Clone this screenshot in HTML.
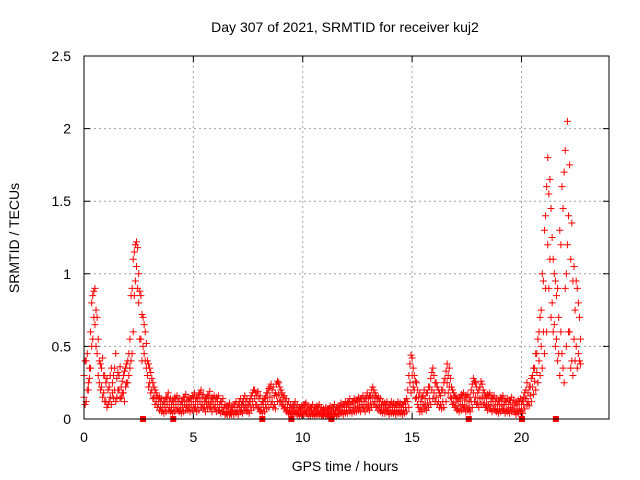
<!DOCTYPE html>
<html><head><meta charset="utf-8"><style>
body{margin:0;background:#fff}
svg{display:block;font-family:"Liberation Sans",sans-serif}
</style></head><body>
<svg id="chart" width="640" height="480" viewBox="0 0 640 480">
<text x="345" y="32" font-size="14" text-anchor="middle">Day 307 of 2021, SRMTID for receiver kuj2</text>
<text x="345" y="471" font-size="14" text-anchor="middle">GPS time / hours</text>
<text x="19" y="238" font-size="14" text-anchor="middle" transform="rotate(-90 19 238)">SRMTID / TECUs</text>
<g id="grid"></g><g id="ticks"></g><g id="marks"></g>
<rect x="84" y="56" width="525" height="363" fill="none" stroke="#000" stroke-width="1"/>
</svg>
<script>
const xTicks=[0,5,10,15,20];
const yTicks=[0,0.5,1,1.5,2,2.5];
const yTickLabels=["0","0.5","1","1.5","2","2.5"];
const dt=0.1;
const seriesA=[0.30,0.40,0.25,0.60,0.85,0.90,0.70,0.40,0.35,0.30,
0.25,0.20,0.30,0.25,0.35,0.28,0.30,0.22,0.30,0.35,
0.40,0.55,0.90,1.15,1.22,1.00,0.85,0.70,0.60,0.40,
0.35,0.28,0.22,0.18,0.14,0.12,0.10,0.12,0.15,0.12,
0.10,0.12,0.14,0.12,0.10,0.12,0.15,0.13,0.12,0.14,
0.15,0.12,0.14,0.18,0.15,0.12,0.14,0.16,0.12,0.14,
0.12,0.14,0.10,0.12,0.08,0.07,0.09,0.06,0.08,0.10,
0.08,0.12,0.10,0.14,0.12,0.10,0.14,0.18,0.20,0.16,
0.14,0.10,0.12,0.15,0.18,0.22,0.20,0.16,0.24,0.25,
0.20,0.15,0.12,0.10,0.08,0.07,0.10,0.08,0.06,0.07,
0.08,0.10,0.07,0.06,0.08,0.06,0.07,0.08,0.06,0.05,
0.06,0.05,0.07,0.06,0.08,0.06,0.07,0.09,0.08,0.10,
0.09,0.12,0.10,0.12,0.11,0.13,0.12,0.14,0.12,0.15,
0.14,0.16,0.22,0.18,0.14,0.12,0.10,0.09,0.10,0.08,
0.10,0.09,0.08,0.10,0.09,0.08,0.10,0.12,0.20,0.38,
0.42,0.30,0.25,0.15,0.12,0.16,0.14,0.18,0.22,0.32,
0.30,0.25,0.20,0.16,0.20,0.28,0.38,0.35,0.22,0.18,
0.15,0.12,0.14,0.16,0.13,0.15,0.12,0.20,0.28,0.25,
0.18,0.22,0.24,0.18,0.14,0.16,0.12,0.14,0.12,0.10,
0.12,0.14,0.10,0.12,0.10,0.13,0.11,0.09,0.10,0.12,
0.10,0.15,0.20,0.18,0.22,0.30,0.35,0.45,0.60,0.75,
0.95,1.40,1.80,1.65,1.25,1.00,0.85,0.70,1.20,1.45,
1.85,2.05,1.75,1.35,1.05,0.95,0.80,0.55];
const seriesB=[0.15,0.12,0.20,0.35,0.55,0.65,0.45,0.25,0.22,0.18,
0.12,0.10,0.15,0.18,0.20,0.15,0.20,0.15,0.18,0.22,
0.25,0.35,0.45,0.85,1.05,0.80,0.55,0.50,0.40,0.30,
0.25,0.20,0.15,0.12,0.10,0.08,0.06,0.08,0.10,0.08,
0.06,0.08,0.10,0.07,0.06,0.08,0.10,0.09,0.08,0.10,
0.10,0.08,0.10,0.12,0.10,0.08,0.10,0.11,0.08,0.10,
0.08,0.10,0.06,0.08,0.05,0.04,0.05,0.04,0.05,0.06,
0.05,0.08,0.06,0.09,0.08,0.06,0.09,0.12,0.14,0.10,
0.08,0.06,0.08,0.10,0.12,0.15,0.12,0.10,0.16,0.17,
0.13,0.10,0.08,0.06,0.05,0.04,0.06,0.05,0.04,0.04,
0.05,0.06,0.04,0.04,0.05,0.04,0.04,0.05,0.04,0.03,
0.04,0.03,0.04,0.04,0.05,0.04,0.04,0.06,0.05,0.06,
0.06,0.08,0.06,0.08,0.07,0.09,0.08,0.10,0.08,0.10,
0.09,0.11,0.15,0.12,0.09,0.08,0.06,0.06,0.07,0.05,
0.06,0.06,0.05,0.06,0.06,0.05,0.06,0.08,0.12,0.25,
0.30,0.20,0.15,0.08,0.07,0.10,0.09,0.11,0.14,0.20,
0.18,0.15,0.12,0.10,0.12,0.18,0.25,0.22,0.14,0.11,
0.09,0.07,0.09,0.10,0.08,0.09,0.07,0.12,0.18,0.15,
0.11,0.14,0.15,0.11,0.09,0.10,0.07,0.09,0.07,0.06,
0.07,0.09,0.06,0.07,0.06,0.08,0.07,0.05,0.06,0.07,
0.06,0.10,0.14,0.12,0.16,0.22,0.26,0.32,0.40,0.50,
0.60,0.90,1.20,1.10,0.80,0.65,0.55,0.45,0.60,0.35,
0.90,1.20,0.60,0.40,0.55,0.50,0.45,0.38];
const seriesC=[0.40,0.45,0.35,0.80,0.88,0.75,0.55,0.38,0.42,0.30,
0.28,0.22,0.35,0.30,0.45,0.32,0.36,0.26,0.33,0.38,
0.45,0.85,1.10,1.20,1.18,0.88,0.72,0.65,0.52,0.38,
0.32,0.25,0.20,0.16,0.15,0.14,0.12,0.15,0.18,0.14,
0.13,0.15,0.16,0.14,0.12,0.15,0.17,0.15,0.14,0.16,
0.18,0.15,0.17,0.20,0.17,0.14,0.16,0.19,0.15,0.16,
0.15,0.16,0.12,0.14,0.10,0.09,0.11,0.08,0.10,0.12,
0.10,0.14,0.12,0.16,0.14,0.12,0.16,0.20,0.18,0.19,
0.16,0.12,0.14,0.18,0.21,0.24,0.22,0.18,0.26,0.22,
0.18,0.16,0.14,0.12,0.10,0.09,0.12,0.10,0.08,0.09,
0.10,0.11,0.09,0.08,0.10,0.08,0.09,0.10,0.08,0.07,
0.08,0.07,0.09,0.08,0.10,0.08,0.09,0.11,0.10,0.12,
0.11,0.14,0.12,0.14,0.13,0.15,0.14,0.16,0.14,0.18,
0.16,0.20,0.20,0.16,0.15,0.14,0.12,0.11,0.12,0.10,
0.12,0.11,0.10,0.12,0.11,0.10,0.12,0.14,0.30,0.44,
0.35,0.26,0.20,0.18,0.15,0.20,0.18,0.22,0.28,0.35,
0.25,0.22,0.18,0.20,0.25,0.33,0.30,0.28,0.20,0.16,
0.14,0.15,0.17,0.18,0.16,0.17,0.15,0.24,0.26,0.22,
0.20,0.26,0.20,0.16,0.17,0.18,0.15,0.16,0.14,0.13,
0.15,0.16,0.13,0.14,0.13,0.15,0.13,0.12,0.13,0.14,
0.13,0.18,0.25,0.22,0.28,0.35,0.45,0.55,0.70,1.00,
1.30,1.60,1.55,1.45,1.10,0.95,0.90,1.30,1.60,1.70,
1.00,1.40,1.10,0.95,0.75,0.90,0.70];
const seriesD=[0.10,0.20,0.28,0.50,0.70,0.50,0.30,0.20,0.15,0.12,
0.08,0.12,0.10,0.14,0.12,0.20,0.14,0.18,0.12,0.25,
0.30,0.40,0.60,0.95,0.90,0.55,0.40,0.45,0.35,0.22,
0.18,0.14,0.10,0.08,0.06,0.05,0.04,0.05,0.06,0.05,
0.04,0.05,0.06,0.05,0.04,0.05,0.06,0.06,0.05,0.06,
0.07,0.05,0.06,0.08,0.07,0.05,0.07,0.08,0.05,0.07,
0.05,0.06,0.04,0.05,0.03,0.03,0.03,0.03,0.03,0.04,
0.03,0.05,0.04,0.06,0.05,0.04,0.06,0.08,0.10,0.07,
0.05,0.04,0.05,0.07,0.08,0.10,0.08,0.07,0.12,0.12,
0.09,0.07,0.05,0.04,0.03,0.03,0.04,0.03,0.02,0.03,
0.03,0.04,0.02,0.02,0.03,0.02,0.03,0.03,0.02,0.02,
0.02,0.02,0.03,0.02,0.03,0.02,0.03,0.04,0.03,0.04,
0.04,0.05,0.04,0.05,0.05,0.06,0.05,0.07,0.05,0.07,
0.06,0.08,0.10,0.08,0.06,0.05,0.04,0.04,0.05,0.03,
0.04,0.04,0.03,0.04,0.04,0.03,0.04,0.05,0.08,0.18,
0.22,0.14,0.10,0.05,0.05,0.07,0.06,0.08,0.10,0.14,
0.12,0.10,0.08,0.07,0.08,0.12,0.18,0.15,0.10,0.08,
0.06,0.05,0.06,0.07,0.05,0.06,0.05,0.08,0.12,0.10,
0.08,0.10,0.10,0.08,0.06,0.07,0.05,0.06,0.05,0.04,
0.05,0.06,0.04,0.05,0.04,0.05,0.05,0.03,0.04,0.05,
0.04,0.07,0.10,0.09,0.12,0.17,0.20,0.25,0.30,0.35,
0.45,0.60,0.90,0.70,0.60,0.50,0.40,0.30,0.45,0.25,
0.50,0.60,0.35,0.30,0.40,0.35,0.40];
const gapTimes=[2.70,4.08,8.15,9.48,11.31,17.59,20.02,21.57];

const X0=84,X1=609,Y0=419,Y1=56,XMAX=24,YMAX=2.5;
const xs=v=>X0+(X1-X0)*v/XMAX;
const ys=v=>Y0-(Y0-Y1)*v/YMAX;
const NS="http://www.w3.org/2000/svg";
function mk(tag,parent,attrs){const e=document.createElementNS(NS,tag);for(const k in attrs)e.setAttribute(k,attrs[k]);parent.appendChild(e);return e;}
const grid=document.getElementById('grid'),ticks=document.getElementById('ticks'),marks=document.getElementById('marks');
xTicks.forEach(v=>{
  const x=xs(v);
  if(v>0){const g=mk('line',grid,{x1:x,x2:x,y1:Y1,y2:Y0,stroke:'#a0a0a0','stroke-dasharray':'2,3'});
  
  }
  const tk=mk('path',ticks,{d:`M${x},${Y0}v-6M${x},${Y1}v6`,stroke:'#000'});
  
  
  const l=mk('text',ticks,{x:x,y:442,'font-size':14,'text-anchor':'middle'});l.textContent=String(v);
  
  
});
yTicks.forEach((v,i)=>{
  const y=ys(v);
  if(v>0&&v<YMAX){const g=mk('line',grid,{x1:X0,x2:X1,y1:y,y2:y,stroke:'#a0a0a0','stroke-dasharray':'2,3'});
  
  }
  const tk=mk('path',ticks,{d:`M${X0},${y}h6M${X1},${y}h-6`,stroke:'#000'});
  
  
  const l=mk('text',ticks,{x:71,y:y+5,'font-size':14,'text-anchor':'end'});l.textContent=yTickLabels[i];
  
  
});
function plus(v,t,name){
  const x=xs(t),y=ys(v);
  const p=mk('path',marks,{d:`M${x-3.5},${y}h7M${x},${y-3.5}v7`,stroke:'#ff0000','stroke-width':1});
  
  
}
seriesD.forEach((v,i)=>plus(v,0.05+i*dt,'point-series-d'));
seriesB.forEach((v,i)=>plus(v,i*dt,'point-series-b'));
seriesC.forEach((v,i)=>plus(v,0.05+i*dt,'point-series-c'));
seriesA.forEach((v,i)=>plus(v,i*dt,'point-series-a'));
gapTimes.forEach(t=>{
  const r=mk('rect',marks,{x:xs(t)-3,y:Y0-3,width:6,height:6,fill:'#ff0000'});
  
  
});
</script>
</body></html>
